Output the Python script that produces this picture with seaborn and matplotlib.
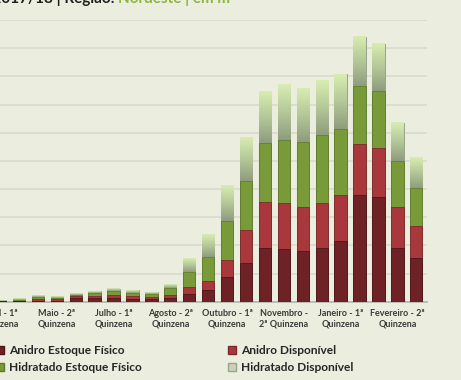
import matplotlib.pyplot as plt
import numpy as np
import pandas as pd
import seaborn as sns
from matplotlib.colors import LinearSegmentedColormap
from matplotlib.patches import Patch

# Estoques de etanol por quinzena, safra 17/18, Nordeste (mil m³)
quinzenas = [
    "Abril - 1ª", "Abril - 2ª", "Maio - 1ª", "Maio - 2ª", "Junho - 1ª", "Junho - 2ª",
    "Julho - 1ª", "Julho - 2ª", "Agosto - 1ª", "Agosto - 2ª", "Setembro - 1ª",
    "Setembro - 2ª", "Outubro - 1ª", "Outubro - 2ª", "Novembro - 1ª", "Novembro - 2ª",
    "Dezembro - 1ª", "Dezembro - 2ª", "Janeiro - 1ª", "Janeiro - 2ª", "Fevereiro - 1ª",
    "Fevereiro - 2ª", "Março - 1ª",
]
tick_labels = [
    "Abril - 1ª\nQuinzena", "Maio - 2ª\nQuinzena", "Julho - 1ª\nQuinzena",
    "Agosto - 2ª\nQuinzena", "Outubro - 1ª\nQuinzena", "Novembro -\n2ª Quinzena",
    "Janeiro - 1ª\nQuinzena", "Fevereiro - 2ª\nQuinzena",
]
anidro_fisico = [1, 2, 4, 4, 12, 13, 14, 11, 9, 14, 29, 41, 88, 138, 191, 186, 180, 192, 214, 380, 371, 191, 155]
anidro_disp = [1, 2, 5, 4, 9, 9, 9, 9, 8, 9, 22, 32, 61, 115, 162, 165, 155, 159, 166, 179, 176, 144, 112]
hidratado_fisico = [2, 3, 7, 5, 4, 9, 14, 12, 11, 24, 55, 86, 139, 174, 212, 223, 233, 241, 234, 206, 200, 163, 137]
hidratado_disp = [2, 4, 5, 4, 5, 6, 8, 8, 7, 13, 47, 80, 126, 155, 184, 197, 191, 193, 194, 174, 168, 137, 110]

BG = "#EBEEDE"
DARK_RED = "#6E2226"
RED = "#A8383B"
GREEN = "#789A38"
LIGHT = "#C4D8A4"

df = pd.DataFrame({
    "quinzena": quinzenas,
    "c1": anidro_fisico,
})
df["c2"] = df["c1"] + anidro_disp
df["c3"] = df["c2"] + hidratado_fisico
df["c4"] = df["c3"] + hidratado_disp

sns.set_style("white")
plt.rcParams["font.family"] = ["Lato", "DejaVu Sans"]

fig = plt.figure(figsize=(4.61, 3.80), dpi=100, facecolor=BG)
ax = fig.add_axes([0, 78.3 / 380, 427 / 461, 281.7 / 380])
ax.set_facecolor(BG)

light_cmap = LinearSegmentedColormap.from_list("light", ["#8F9C7E", "#B4C898", "#D8ECB2"])
grad = np.linspace(0, 1, 64).reshape(-1, 1)

# stacked bars: draw cumulative totals from the top layer down
layers = [("c4", LIGHT, "#8E9A80"), ("c3", GREEN, "#5C7A2A"),
          ("c2", RED, "#7E2A2C"), ("c1", DARK_RED, "#4E1719")]
for z, (col, color, edge) in enumerate(layers):
    sns.barplot(data=df, x="quinzena", y=col, order=quinzenas, color=color,
                saturation=1, width=0.65, edgecolor=edge, linewidth=0.6,
                errorbar=None, zorder=2 + z, ax=ax)
    if col == "c4":
        for i, p in enumerate(ax.patches):
            x0, w = p.get_x(), p.get_width()
            ax.imshow(grad, extent=[x0, x0 + w, df["c3"][i], df["c4"][i]],
                      origin="lower", aspect="auto", cmap=light_cmap, zorder=2.5)

ax.set_xlim(1.7 / 19, 428.7 / 19)
ax.set_ylim(0, 1000)
ax.set_yticks(range(0, 1001, 100))
ax.yaxis.grid(True, color="#D8DACE", linewidth=1.2)
ax.set_axisbelow(True)
ax.tick_params(axis="y", left=False, labelleft=False)

ax.set_xticks(range(0, len(quinzenas), 3))
ax.set_xticklabels(tick_labels, fontsize=6.5, fontweight="bold", color="#3A3A3A",
                   linespacing=1.2)
ax.tick_params(axis="x", length=0, pad=5)
ax.set_xlabel("")
ax.set_ylabel("")

for side in ["left", "right", "top"]:
    ax.spines[side].set_visible(False)
ax.spines["bottom"].set_color("#B8B9B0")
ax.spines["bottom"].set_linewidth(1.3)

# cropped title
fig.text(118 / 461, 1 - 2.5 / 380, "Estoques de Etanol - Safra 2017/18 | Região: ",
         ha="right", va="baseline", fontsize=11, fontweight="bold", color="#1F1F1F")
fig.text(118 / 461, 1 - 2.5 / 380, "Nordeste | em m³",
         ha="left", va="baseline", fontsize=11, fontweight="bold", color="#8DB53F")

legend_kw = dict(loc="upper left", frameon=False, prop={"weight": "bold", "size": 8.6},
                 handlelength=0.65, handleheight=0.65, handletextpad=0.45,
                 labelspacing=0.5, borderpad=0, borderaxespad=0, labelcolor="#262626")
leg1 = fig.legend(handles=[Patch(facecolor=DARK_RED, edgecolor="#4E1719"),
                           Patch(facecolor=GREEN, edgecolor="#5C7A2A")],
                  labels=["Anidro Estoque Físico", "Hidratado Estoque Físico"],
                  bbox_to_anchor=(-4 / 461, 1 - 345 / 380), **legend_kw)
leg2 = fig.legend(handles=[Patch(facecolor=RED, edgecolor="#7E2A2C"),
                           Patch(facecolor="#C8D4B8", edgecolor="#9AA38C")],
                  labels=["Anidro Disponível", "Hidratado Disponível"],
                  bbox_to_anchor=(228 / 461, 1 - 345 / 380), **legend_kw)

fig.savefig("out.png", dpi=100, facecolor=BG)
